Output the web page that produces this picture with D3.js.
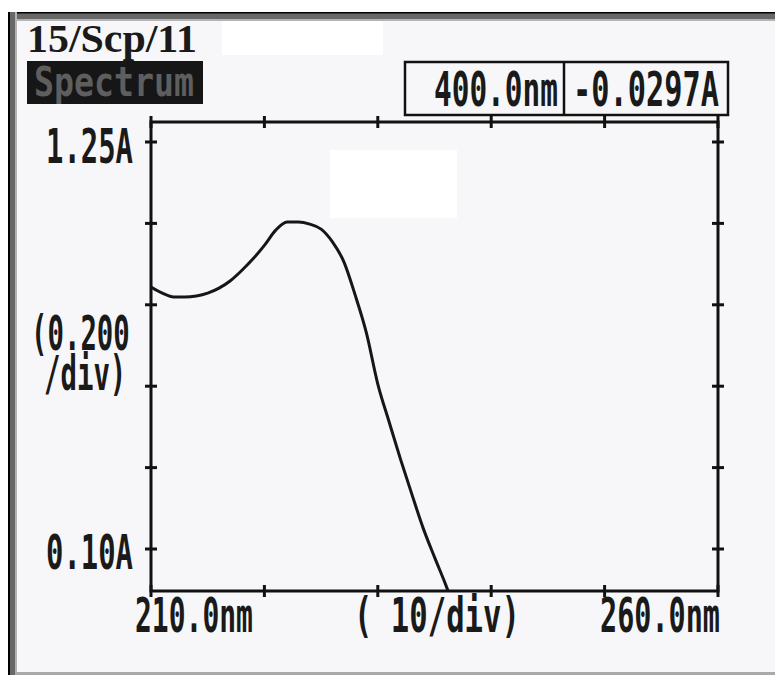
<!DOCTYPE html>
<html>
<head>
<meta charset="utf-8">
<script src="https://cdn.jsdelivr.net/npm/d3@7"></script>
<style>
  html, body { margin: 0; padding: 0; background: #ffffff; }
  svg { display: block; }
</style>
</head>
<body>
<div id="chart"></div>
<script>
// Spectrum printout: absorbance vs wavelength

// data
const wavelengths = [210, 211, 212, 213, 214, 215, 216, 217, 218, 219, 220, 221, 222, 223,
                     224, 225, 226, 227, 228, 229, 230, 231, 232, 233, 234, 235, 236, 236.2];
const absorbance = [0.840, 0.823, 0.812, 0.812, 0.815, 0.823, 0.837, 0.858, 0.887, 0.920, 0.958, 1.001, 1.024, 1.024,
                    1.018, 1.004, 0.968, 0.912, 0.818, 0.710, 0.566, 0.459, 0.354, 0.255, 0.159, 0.077, -0.002, -0.019];

const xTicks = [210, 220, 230, 240, 250, 260];
const yTicks = [1.25, 1.02, 0.79, 0.56, 0.33, 0.10];
const xTickLabels = ["210.0nm", "260.0nm"];
const yTickLabels = ["1.25A", "0.10A"];
const cursorLabels = ["400.0nm", "-0.0297A"];

const W = 775, H = 675;
const plot = {left: 151, right: 718, top: 122, bottom: 591};
const mono = "'DejaVu Sans Mono', monospace";

const svg = d3.select("#chart")
    .append("svg")
    .attr("width", W)
    .attr("height", H);

// paper + window border
svg.append("rect").attr("width", W).attr("height", H).attr("fill", "#ffffff");
svg.append("rect").attr("x", 8).attr("y", 12).attr("width", W - 8).attr("height", H - 12).attr("fill", "#f7f7f9");
svg.append("rect").attr("x", 8).attr("y", 12).attr("width", W - 8).attr("height", 9).attr("fill", "#b4b4b4");
svg.append("rect").attr("x", 8).attr("y", 12).attr("width", W - 8).attr("height", 7).attr("fill", "#686868");
svg.append("rect").attr("x", 8).attr("y", 12).attr("width", W - 8).attr("height", 1.5).attr("fill", "#000");
svg.append("rect").attr("x", 8).attr("y", 12).attr("width", 9).attr("height", H - 12).attr("fill", "#b4b4b4");
svg.append("rect").attr("x", 8).attr("y", 12).attr("width", 7).attr("height", H - 12).attr("fill", "#686868");
svg.append("rect").attr("x", 8).attr("y", 12).attr("width", 2).attr("height", H - 12).attr("fill", "#000");
svg.append("rect").attr("x", 15).attr("y", 672).attr("width", W - 15).attr("height", 3).attr("fill", "#a9a9a9");

// redacted patches
svg.append("rect").attr("x", 222).attr("y", 21).attr("width", 161).attr("height", 34).attr("fill", "#ffffff");
svg.append("rect").attr("x", 330).attr("y", 150).attr("width", 127).attr("height", 68).attr("fill", "#ffffff");

// helper for the tall narrow printer font: squeeze horizontally to a given width
function label(x, y, str, len, size, opts = {}) {
    const t = svg.append("text")
        .attr("x", 0)
        .attr("y", 0)
        .style("font-family", opts.family || mono)
        .style("font-size", size + "px")
        .style("font-weight", opts.weight || "bold")
        .style("fill", opts.fill || "#1a1a1a")
        .text(str);
    const natural = t.node().getComputedTextLength();
    t.attr("transform", `translate(${x},${y}) scale(${len / natural},1)`);
    return t;
}

// header
label(27, 52, "15/Scp/11", 170, 40, {family: "'Liberation Serif', serif"});
svg.append("rect").attr("x", 27).attr("y", 61).attr("width", 176).attr("height", 43).attr("fill", "#161616");
label(34, 96, "Spectrum", 160, 40, {fill: "#5e5e5e"});

// cursor readout box
svg.append("rect")
    .attr("x", 405).attr("y", 62).attr("width", 323).attr("height", 53)
    .attr("fill", "none").attr("stroke", "#111").attr("stroke-width", 2.5);
svg.append("line")
    .attr("x1", 564).attr("x2", 564).attr("y1", 62).attr("y2", 115)
    .attr("stroke", "#111").attr("stroke-width", 2.5);
label(434, 106, cursorLabels[0], 124, 48);
label(573, 106, cursorLabels[1], 146, 48);

// scales
const x = d3.scaleLinear().domain([210, 260]).range([plot.left, plot.right]);
const y = d3.scaleLinear().domain([0.10, 1.25]).range([549, 142]);

// frame
svg.append("rect")
    .attr("x", plot.left).attr("y", plot.top)
    .attr("width", plot.right - plot.left).attr("height", plot.bottom - plot.top)
    .attr("fill", "none").attr("stroke", "#111").attr("stroke-width", 3);

// crossing tick marks
const tickLen = 6;
[plot.left, plot.right].forEach(px => {
    svg.append("g").selectAll("line")
        .data(yTicks)
        .enter()
        .append("line")
        .attr("x1", px - tickLen).attr("x2", px + tickLen)
        .attr("y1", d => y(d)).attr("y2", d => y(d))
        .attr("stroke", "#111").attr("stroke-width", 3);
});
[plot.top, plot.bottom].forEach(py => {
    svg.append("g").selectAll("line")
        .data(xTicks)
        .enter()
        .append("line")
        .attr("x1", d => x(d)).attr("x2", d => x(d))
        .attr("y1", py - tickLen).attr("y2", py + tickLen)
        .attr("stroke", "#111").attr("stroke-width", 3);
});

// axis labels
label(46, y(yTicks[0]) + 21, yTickLabels[0], 87, 48);
label(46, y(yTicks[yTicks.length - 1]) + 20, yTickLabels[1], 87, 48);

// two-line scale note, one text element
const sx = 0.57;
const note = svg.append("text")
    .attr("transform", `scale(${sx},1)`)
    .style("font-family", mono)
    .style("font-size", "48px")
    .style("font-weight", "bold")
    .style("fill", "#1a1a1a");
note.append("tspan").attr("x", 31 / sx).attr("y", 350).text("(0.200");
note.append("tspan").attr("x", 44 / sx).attr("y", 390).text("/div)");

label(x(xTicks[0]) - 16, 632, xTickLabels[0], 118, 48);
label(354, 632, "( 10/div)", 166, 48);
label(x(xTicks[xTicks.length - 1]) - 118, 632, xTickLabels[1], 120, 48);

// spectrum trace
svg.append("clipPath").attr("id", "plot-clip")
    .append("rect")
    .attr("x", plot.left).attr("y", plot.top)
    .attr("width", plot.right - plot.left).attr("height", plot.bottom - plot.top);

const line = d3.line()
    .x((d, i) => x(wavelengths[i]))
    .y(d => y(d))
    .curve(d3.curveMonotoneX);

svg.append("path")
    .datum(absorbance)
    .attr("clip-path", "url(#plot-clip)")
    .attr("d", line)
    .attr("fill", "none")
    .attr("stroke", "#161616")
    .attr("stroke-width", 3)
    .attr("stroke-linejoin", "round");
</script>
</body>
</html>
